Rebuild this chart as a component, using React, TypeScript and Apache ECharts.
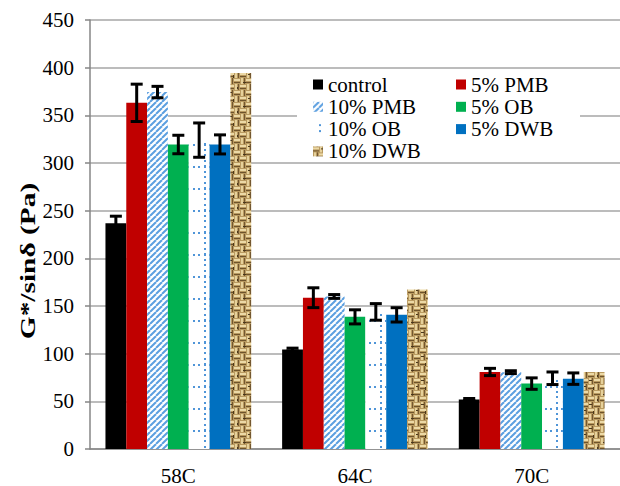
import React, { useEffect, useRef } from "react";
import * as echarts from "echarts";

const categories = ["58C", "64C", "70C"];
const seriesNames = ["control", "5% PMB", "10% PMB", "5% OB", "10% OB", "5% DWB", "10% DWB"];
const controlVals = [236.7, 104.3, 52];
const pmb5Vals = [363.1, 158.7, 80.8];
const pmb10Vals = [374.4, 160, 80.6];
const ob5Vals = [319.4, 138.6, 68.6];
const ob10Vals = [324, 143.8, 74.2];
const dwb5Vals = [319.5, 140.7, 73.8];
const dwb10Vals = [394.3, 167.3, 80.8];
const controlErr = [7.5, 1.5, 1];
const pmb5Err = [19.6, 10.4, 3.8];
const pmb10Err = [6, 2, 1.5];
const ob5Err = [9.7, 7.4, 6];
const ob10Err = [18, 8.7, 6.6];
const dwb5Err = [10, 7.5, 6];
const dwb10Err = [0, 0, 0];
const yTicks = [0, 50, 100, 150, 200, 250, 300, 350, 400, 450];

const FONT = "Liberation Serif, Times New Roman, serif";
const CAT_GAP = 0.175;

function makeCanvas(w: number, h: number) {
  const c = document.createElement("canvas");
  c.width = w;
  c.height = h;
  return c;
}

function hatchPattern() {
  const c = makeCanvas(6, 6);
  const g = c.getContext("2d")!;
  g.fillStyle = "#ffffff";
  g.fillRect(0, 0, 6, 6);
  g.strokeStyle = "#5b9fe0";
  g.lineWidth = 2;
  for (const off of [-6, 0, 6]) {
    g.beginPath();
    g.moveTo(off, 6);
    g.lineTo(off + 6, 0);
    g.stroke();
  }
  return { image: c, repeat: "repeat", imageWidth: 6, imageHeight: 6 };
}

function dotPattern() {
  const c = makeCanvas(22, 22);
  const g = c.getContext("2d")!;
  g.fillStyle = "#ffffff";
  g.fillRect(0, 0, 22, 22);
  g.fillStyle = "#4f95d8";
  for (let k = 0; k < 4; k++) {
    const p = Math.round(k * 5.5);
    g.fillRect(6, p, 2, 2);
    g.fillRect(p, 12, 2, 2);
  }
  return { image: c, repeat: "repeat", imageWidth: 22, imageHeight: 22 };
}

function burlapPattern() {
  const S = 24;
  const c = makeCanvas(S, S);
  const g = c.getContext("2d")!;
  g.fillStyle = "#b99a60";
  g.fillRect(0, 0, S, S);
  for (let i = 0; i < 4; i++) {
    for (let j = 0; j < 4; j++) {
      const x = i * 6;
      const y = j * 6;
      if ((i + j) % 2 === 0) {
        g.fillStyle = "#ecd9a6";
        g.fillRect(x, y + 1, 6, 2);
        g.fillStyle = "#6e532b";
        g.fillRect(x, y + 4, 6, 1);
      } else {
        g.fillStyle = "#e6d19b";
        g.fillRect(x + 1, y, 2, 6);
        g.fillStyle = "#735730";
        g.fillRect(x + 4, y, 1, 6);
      }
    }
  }
  g.fillStyle = "#4a371b";
  g.fillRect(3, 10, 3, 1);
  g.fillRect(17, 3, 1, 3);
  g.fillRect(13, 20, 3, 1);
  g.fillRect(21, 15, 1, 2);
  g.fillRect(8, 2, 2, 1);
  return { image: c, repeat: "repeat", imageWidth: S, imageHeight: S };
}

export default function App() {
  const ref = useRef<HTMLDivElement>(null);
  useEffect(() => {
    if (!ref.current) return;
    const chart = echarts.init(ref.current, null, { renderer: "svg" });
    const values = [controlVals, pmb5Vals, pmb10Vals, ob5Vals, ob10Vals, dwb5Vals, dwb10Vals];
    const errs = [controlErr, pmb5Err, pmb10Err, ob5Err, ob10Err, dwb5Err, dwb10Err];
    const colors: any[] = [
      "#000000",
      "#c00000",
      hatchPattern(),
      "#00b050",
      dotPattern(),
      "#0070c0",
      burlapPattern(),
    ];
    const n = seriesNames.length;
    const errData: number[][] = [];
    values.forEach((vals, s) => {
      vals.forEach((v, c) => {
        if (errs[s][c] > 0) errData.push([c, s, v, errs[s][c]]);
      });
    });
    const barSeries = seriesNames.map((name, s) => ({
      name,
      type: "bar",
      data: values[s],
      barGap: "0%",
      barCategoryGap: CAT_GAP * 100 + "%",
      itemStyle: { color: colors[s] },
    }));
    const legendBase = {
      orient: "vertical",
      top: 74,
      padding: 0,
      itemWidth: 10,
      itemHeight: 10,
      itemGap: 1.3,
      icon: "rect",
      textStyle: { fontFamily: FONT, fontSize: 21, color: "#000", lineHeight: 20 },
    };
    chart.setOption({
      animation: false,
      grid: { left: 90, right: 0, top: 20, bottom: 33.3 },
      legend: [
        { ...legendBase, left: 313, data: ["control", "10% PMB", "10% OB", "10% DWB"] },
        { ...legendBase, left: 456, data: ["5% PMB", "5% OB", "5% DWB"] },
      ],
      graphic: [
        {
          type: "rect",
          z: 1,
          shape: { x: 297, y: 71, width: 283, height: 89 },
          style: { fill: "#ffffff" },
        },
        {
          type: "text",
          x: 28,
          y: 261,
          rotation: Math.PI / 2,
          scaleX: 1.4,
          style: {
            text: "G*/sinδ (Pa)",
            fontFamily: FONT,
            fontWeight: "bold",
            fontSize: 21,
            fill: "#000",
            align: "center",
            verticalAlign: "middle",
          },
        },
      ],
      xAxis: {
        type: "category",
        data: categories,
        axisLine: { lineStyle: { color: "#868686", width: 1.5 } },
        axisTick: { length: 5, lineStyle: { color: "#868686", width: 1.5 } },
        axisLabel: { fontFamily: FONT, fontSize: 21, color: "#000", margin: 16 },
      },
      yAxis: {
        type: "value",
        min: yTicks[0],
        max: yTicks[yTicks.length - 1],
        interval: 50,
        axisLine: { show: true, lineStyle: { color: "#868686", width: 1.5 } },
        axisTick: { show: true, length: 5, lineStyle: { color: "#868686", width: 1.5 } },
        axisLabel: { fontFamily: FONT, fontSize: 21, color: "#000", margin: 16 },
        splitLine: { lineStyle: { color: "#a6a6a6", width: 1.5 } },
      },
      series: [
        ...barSeries,
        {
          type: "custom",
          z: 5,
          data: errData,
          renderItem: (params: any, api: any) => {
            const c = api.value(0);
            const s = api.value(1);
            const v = api.value(2);
            const e = api.value(3);
            const catW = api.size([1, 0])[0];
            const groupW = catW * (1 - CAT_GAP);
            const barW = groupW / n;
            const cx = api.coord([c, 0])[0] - groupW / 2 + (s + 0.5) * barW;
            const yt = api.coord([c, v + e])[1];
            const yb = api.coord([c, v - e])[1];
            const hw = 6;
            const st = { stroke: "#000", lineWidth: 3 };
            return {
              type: "group",
              children: [
                { type: "line", shape: { x1: cx, y1: yt, x2: cx, y2: yb }, style: st },
                { type: "line", shape: { x1: cx - hw, y1: yt, x2: cx + hw, y2: yt }, style: st },
                { type: "line", shape: { x1: cx - hw, y1: yb, x2: cx + hw, y2: yb }, style: st },
              ],
            };
          },
        },
      ],
    });
    return () => chart.dispose();
  }, []);
  return (
    <div
      ref={ref}
      style={{ position: "absolute", left: 0, top: 0, width: 620, height: 486 }}
    />
  );
}
